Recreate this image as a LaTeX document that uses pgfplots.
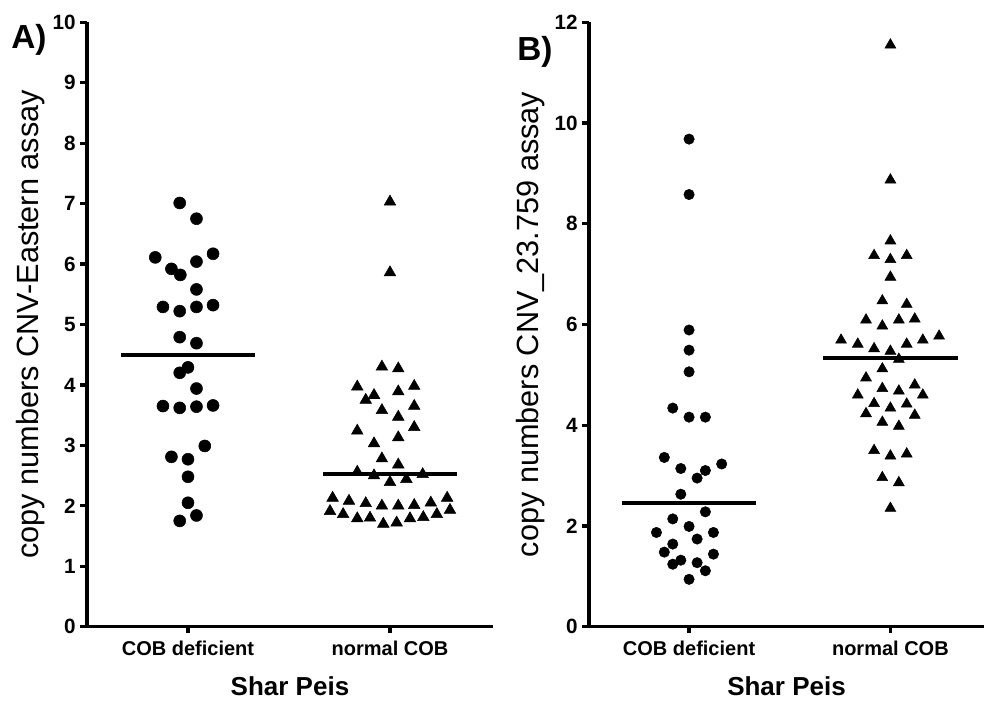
\documentclass[border=0pt]{standalone}
\usepackage{fontspec}
\setmainfont{Liberation Sans}
\usepackage{pgfplots}
\pgfplotsset{compat=1.18}
\begin{document}
\begin{tikzpicture}
\useasboundingbox (0,-55pt) rectangle (738pt,470pt);
\pgfplotsset{
  myaxis/.style={
    scale only axis,
    anchor=south west,
    height=453.3pt,
    axis x line=bottom, axis y line=left,
    axis line style={-, line width=2.4pt},
    tick style={line width=2.4pt, black},
    tick align=outside,
    major tick length=5pt,
    xtick={1,2},
    xticklabels={COB deficient, normal COB},
    /pgf/number format/assume math mode=true,
    tick label style={font=\bfseries\fontsize{15.5}{17}\selectfont},
    xticklabel style={font=\bfseries\fontsize{15}{17}\selectfont, yshift=-2pt},
    clip=false,
    xlabel={Shar Peis},
    xlabel style={font=\bfseries\fontsize{19.5}{22}\selectfont, at={(axis description cs:0.5,-0.098)}, anchor=center},
    ylabel style={font=\fontsize{23}{25}\selectfont, anchor=center},
  },
  meanline/.style={black, line width=3pt, no marks},
}
\begin{axis}[myaxis, at={(65.25pt,0)}, width=304.5pt,
  xmin=0.5, xmax=2.51, ymin=0, ymax=10, ytick={0,1,...,10},
  ylabel={copy numbers CNV-Eastern assay},
  ylabel style={at={(axis description cs:-0.140,0.5)}},
]
\addplot[only marks, mark=*, mark size=4.5pt, black] coordinates {
(0.959,7.01)(1.042,6.75)(0.838,6.11)(1.124,6.17)(1.042,6.04)(0.918,5.92)(0.962,5.82)
(1.042,5.58)(0.876,5.29)(0.959,5.22)(1.042,5.29)(1.124,5.32)(0.959,4.79)(1.042,4.69)
(1.0,4.29)(0.959,4.20)(1.042,3.94)(0.876,3.65)(0.959,3.62)(1.042,3.64)(1.124,3.66)
(1.083,2.99)(0.918,2.81)(1.0,2.77)(1.0,2.48)(1.0,2.05)(1.042,1.84)(0.959,1.75)
};
\addplot[only marks, mark=triangle*, mark size=5pt, black] coordinates {
(2.0,7.03)(2.0,5.86)(1.960,4.30)(2.041,4.27)(1.838,3.97)(2.120,3.98)(1.921,3.83)
(1.880,3.75)(2.041,3.89)(2.120,3.65)(1.960,3.58)(2.041,3.47)(1.838,3.24)(2.120,3.30)
(1.921,3.03)(2.041,3.13)(1.960,2.78)(2.041,2.68)(1.838,2.56)(1.921,2.50)(2.0,2.39)
(2.081,2.44)(2.162,2.52)
(1.716,2.13)(1.797,2.08)(1.880,2.04)(1.960,2.00)(2.041,2.00)(2.120,2.01)(2.202,2.05)(2.283,2.13)
(1.703,1.91)(1.768,1.86)(1.838,1.79)(1.901,1.80)(1.967,1.70)(2.033,1.72)(2.099,1.79)(2.165,1.81)(2.232,1.86)(2.297,1.93)
};
\addplot[meanline] coordinates {(0.67,4.49) (1.33,4.49)};
\addplot[meanline] coordinates {(1.67,2.53) (2.33,2.53)};
\node[font=\bfseries\fontsize{25}{28}\selectfont] at (axis description cs:-0.143,0.971) {A)};
\end{axis}
\begin{axis}[myaxis, at={(441.75pt,0)}, width=296.25pt,
  xmin=0.503, xmax=2.465, ymin=0, ymax=12, ytick={0,2,...,12},
  ylabel={copy numbers CNV\_23.759 assay},
  ylabel style={at={(axis description cs:-0.149,0.5)}},
]
\addplot[only marks, mark=*, mark size=3.9pt, black] coordinates {
(1,9.68)(1,8.58)(1,5.89)(1,5.49)(1,5.06)(0.919,4.34)(1,4.16)(1.081,4.16)(0.877,3.36)
(0.959,3.14)(1.081,3.10)(1.162,3.23)(1.040,2.95)(0.959,2.63)(1.081,2.28)(0.919,2.14)
(1,1.99)(0.838,1.87)(1.121,1.87)(1.040,1.74)(0.919,1.64)(0.877,1.48)(1.121,1.44)
(0.959,1.32)(0.919,1.24)(1.040,1.27)(1.081,1.11)(1,0.94)
};
\addplot[only marks, mark=triangle*, mark size=4.7pt, black] coordinates {
(2,11.55)(2,8.87)(2,7.66)(1.919,7.37)(2,7.29)(2.081,7.37)(2,6.94)(1.960,6.47)(2.081,6.40)
(1.879,6.09)(1.960,5.97)(2.042,6.09)(2.121,6.11)(1.755,5.69)(1.838,5.61)(1.919,5.52)
(2,5.47)(2.081,5.61)(2.161,5.69)(2.242,5.77)(2.042,5.31)(1.960,5.12)(1.879,4.94)
(1.960,4.73)(2.042,4.68)(2.121,4.80)(1.838,4.60)(2.161,4.60)(1.919,4.43)(2,4.34)
(2.081,4.42)(1.879,4.23)(2.121,4.20)(1.960,4.06)(2.042,3.98)(1.919,3.50)(2,3.39)
(2.081,3.43)(1.960,2.96)(2.042,2.86)(2,2.35)
};
\addplot[meanline] coordinates {(0.666,2.46) (1.334,2.46)};
\addplot[meanline] coordinates {(1.666,5.34) (2.334,5.34)};
\node[font=\bfseries\fontsize{25}{28}\selectfont] at (axis description cs:-0.137,0.951) {B)};
\end{axis}
\end{tikzpicture}
\end{document}
